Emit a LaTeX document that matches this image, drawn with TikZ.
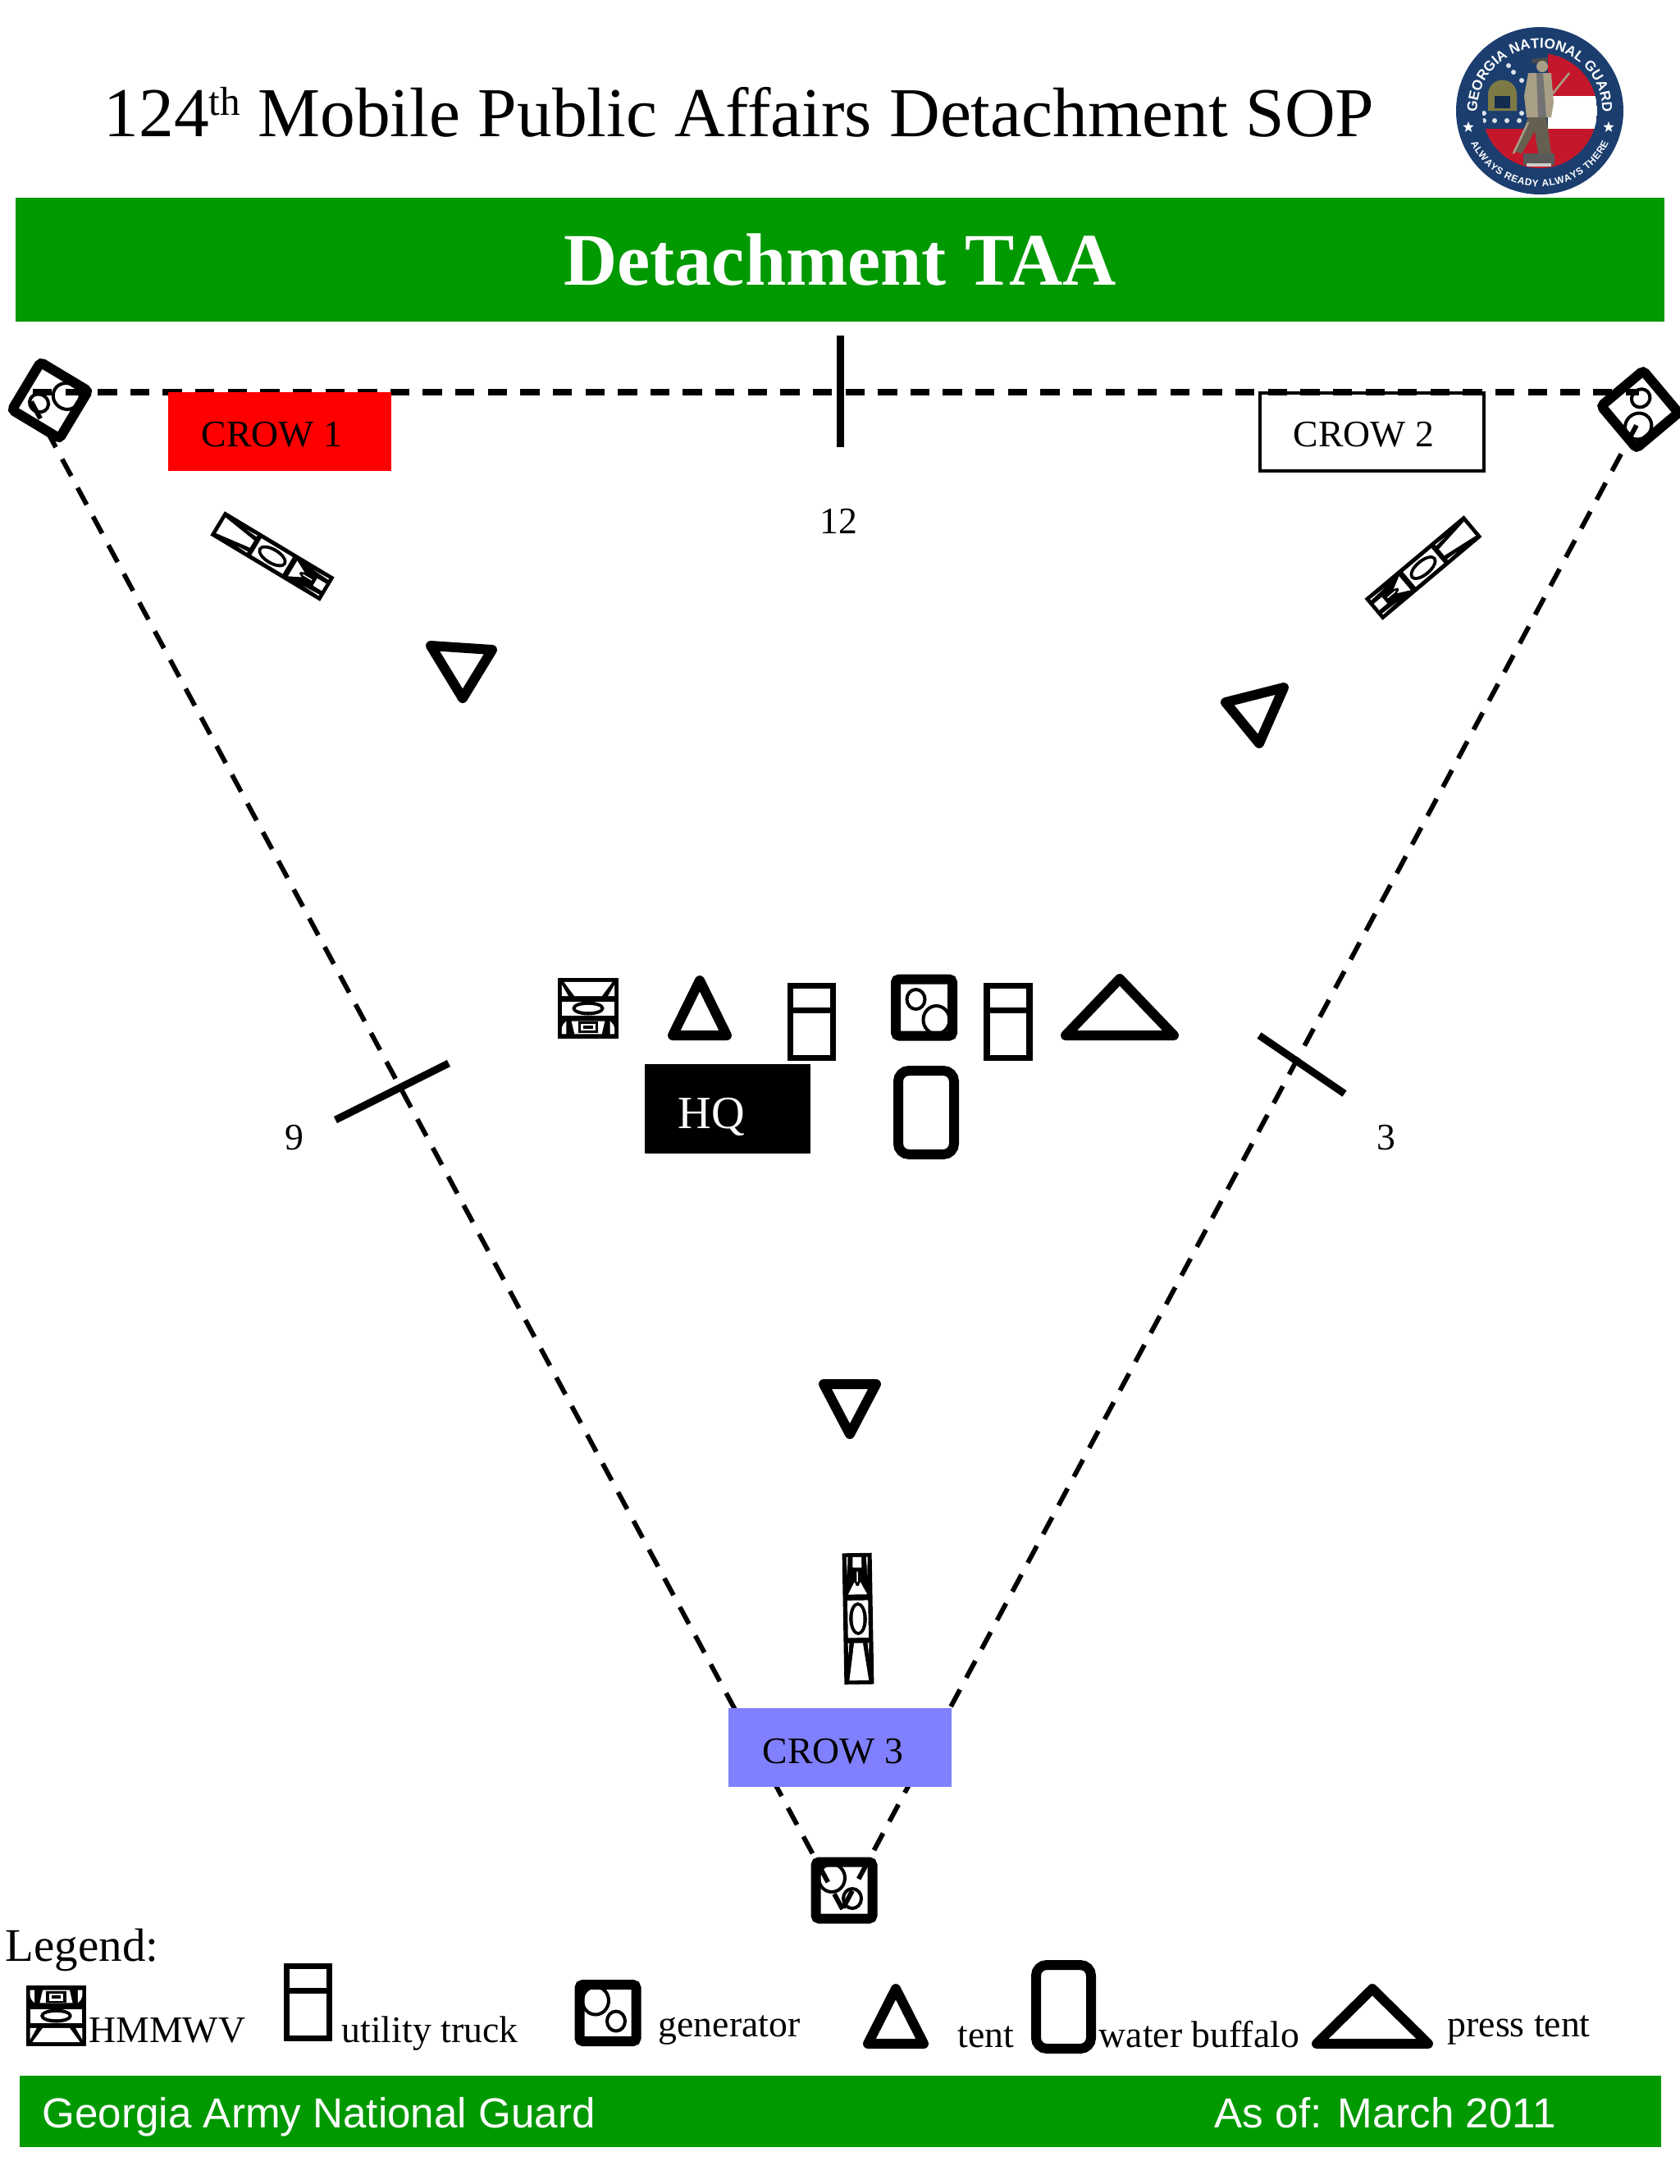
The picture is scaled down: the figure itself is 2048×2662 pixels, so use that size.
\documentclass[tikz,border=0pt]{standalone}
\usepackage{fontspec}
\setmainfont{Liberation Serif}
\newfontfamily\footfont{Liberation Sans}
\usetikzlibrary{decorations.text,shapes.geometric}
\definecolor{guardgreen}{HTML}{009900}
\definecolor{crowblue}{HTML}{8080FF}
\definecolor{logoblue}{HTML}{1B3E6F}
\definecolor{logored}{HTML}{C4172C}
\definecolor{logotan}{HTML}{A89F86}
\definecolor{logoolive}{HTML}{7E7A45}
\newcommand{\logotopfont}{\footfont\bfseries\fontsize{4.9}{6}\selectfont}
\newcommand{\logolowfont}{\footfont\bfseries\fontsize{3.4}{4}\selectfont}
\tikzset{
  perimeter/.style={line width=0.058cm, dash pattern=on 0.234cm off 0.163cm},
  topline/.style={line width=0.072cm, dash pattern=on 0.233cm off 0.163cm},
  tickline/.style={line width=0.09cm},
  tentline/.style={line width=0.12cm, line join=round},
  buffalo/.style={line width=0.12cm, rounded corners=0.13cm},
  textlabel/.style={inner sep=0pt, anchor=base west, font=\fontsize{13}{15}\selectfont},
  clocklabel/.style={inner sep=0pt, font=\fontsize{13}{15}\selectfont},
  footlabel/.style={inner sep=0pt, anchor=base west, text=white, font=\footfont\fontsize{14.55}{17}\selectfont},
  pics/hmmwv/.style={code={
    \fill[black] (-1,-1) rectangle (1,1);
    \fill[white] (-.8,-.87) -- (.8,-.87) -- (.45,-.40) -- (-.45,-.40) -- cycle;
    \fill[white] (-.87,-.78) -- (-.87,-.40) -- (-.65,-.40) -- cycle;
    \fill[white] (.87,-.78) -- (.87,-.40) -- (.65,-.40) -- cycle;
    \fill[white] (-.87,-.23) rectangle (.87,.23);
    \fill[black] (0,0) circle[x radius=.53, y radius=.23];
    \fill[white] (0,0) circle[x radius=.41, y radius=.11];
    \fill[white] (-.87,.85) -- (-.87,.66) .. controls (-.85,.55) and (-.8,.48) .. (-.72,.42) -- (-.72,.85) -- cycle;
    \fill[white] (.87,.85) -- (.87,.66) .. controls (.85,.55) and (.8,.48) .. (.72,.42) -- (.72,.85) -- cycle;
    \fill[white] (-.55,.42) -- (.55,.42) -- (.45,.85) -- (-.45,.85) -- cycle;
    \fill[black] (-.33,.42) rectangle (.33,.82);
    \fill[white] (-.24,.50) rectangle (.24,.74);
    \fill[black] (-.16,.57) rectangle (.16,.68);
  }},
  pics/hmmwvlong/.style={code={
    \fill[black] (-1,-1) rectangle (1,1);
    \fill[white] (-.3,-.94) rectangle (.3,-.78);
    \fill[white] (-.04,-.72) rectangle (.04,-.56);
    \fill[white] (-.2,-.56) -- (-.08,-.5) -- (.08,-.5) -- (.2,-.56) -- (.65,-.37) -- (-.65,-.37) -- cycle;
    \fill[white] (-.72,-.94) -- (-.62,-.94) -- (-.68,-.66) -- cycle;
    \fill[white] (.72,-.94) -- (.62,-.94) -- (.68,-.66) -- cycle;
    \fill[white] (-.7,-.28) rectangle (.7,.29);
    \fill[black] (0,0) circle[x radius=.6, y radius=.25];
    \fill[white] (0,0) circle[x radius=.36, y radius=.2];
    \fill[white] (-.3,.37) -- (.3,.37) -- (.66,.94) -- (-.66,.94) -- cycle;
    \fill[white] (-.72,.37) -- (-.62,.37) -- (-.68,.55) -- cycle;
    \fill[white] (.72,.37) -- (.62,.37) -- (.68,.55) -- cycle;
  }},
  pics/generator/.style={code={
    \draw[line width=0.12cm, rounded corners=0.04cm] (-34.5,-34.5) rectangle (34.5,34.5);
    \begin{scope}
      \clip (-29,-29) rectangle (29,29);
      \draw[line width=0.04cm] (15,15) circle[x radius=16, y radius=17];
    \end{scope}
    \draw[line width=0.04cm] (-10,-10) circle[x radius=11, y radius=12];
  }},
  pics/utilitytruck/.style={code={
    \draw[line width=0.075cm] (-26,-44) rectangle (26,44);
    \draw[line width=0.075cm] (-26,-14) -- (26,-14);
  }}
}
\begin{document}
\begin{tikzpicture}[x=0.01cm, y=-0.01cm]
  \useasboundingbox (0,0) rectangle (2048,2662);
  % Title and banner
  \node[inner sep=0pt, anchor=base west, font=\fontsize{24.3}{28}\selectfont] (title) at (126,166)
    {124\raisebox{0.25cm}{\fontsize{14}{16}\selectfont th} Mobile Public Affairs Detachment SOP};
  \fill[guardgreen] (19,241) rectangle (2029,392);
  \node[inner sep=0pt, anchor=base, text=white, font=\bfseries\fontsize{25.7}{30}\selectfont] (banner) at (1024,347) {Detachment TAA};
  % Logo
  \begin{scope}[shift={(1877,135)}]
    \fill[logoblue] (0,0) circle[radius=102];
    \begin{scope}
      \clip (0,0) circle[radius=70];
      \fill[logoblue] (-70,-70) rectangle (70,22);
      \fill[logored] (10,-70) rectangle (70,-18);
      \fill[white] (10,-18) rectangle (70,22);
      \fill[logored] (-70,22) rectangle (70,70);
      \fill[logoolive] (-63,0) -- (-63,-20) arc[start angle=180, end angle=360, radius=17.5] -- (-28,0) -- cycle;
      \fill[logoblue!70!black] (-55,-3) rectangle (-36,-18);
      \foreach \sx/\sy in {-68/12,-55/12,-40/12,-25/12,-38/-55,-32/-47,-22/-37,-68/3,-22/3}
        \fill[white!85!logoblue] (\sx,\sy) circle[radius=3];
    \end{scope}
    % minuteman
    \fill[black!70] (-9,-63) -- (9,-65) -- (10,-59) -- (-10,-58) -- cycle;
    \fill[logotan] (3,-54) circle[radius=7];
    \fill[logotan] (-14,-46) -- (14,-46) -- (17,-10) -- (14,8) -- (-16,8) -- (-19,-18) -- cycle;
    \fill[black!55] (-4,-46) -- (4,-46) -- (8,8) -- (-2,8) -- cycle;
    \fill[logotan!60!black] (-14,8) -- (8,8) -- (14,52) -- (-2,52) -- (-6,25) -- (-22,52) -- (-30,50) -- cycle;
    \fill[black!65] (-20,52) rectangle (18,66);
    \fill[white!80!black] (-16,64) rectangle (14,68);
    \draw[logotan, line width=0.025cm] (12,-16) -- (36,-46);
    \draw[logotan, line width=0.025cm] (-32,52) -- (-14,14);
    \path[postaction={decorate}, decoration={text along path, text color=white, text align=center,
      text={|\logotopfont|GEORGIA NATIONAL GUARD}}] (-75.2,13.3) arc[start angle=170, end angle=370, radius=76.3];
    \path[postaction={decorate}, decoration={text along path, text color=white, text align=fit to path,
      text={|\logolowfont|ALWAYS READY  ALWAYS THERE}}] (-84,39) arc[start angle=155, end angle=25, radius=92.7];
    \node[star, star points=5, star point ratio=2.4, fill=white, inner sep=0pt, minimum size=0.14cm] (starleft) at (-87,20) {};
    \node[star, star points=5, star point ratio=2.4, fill=white, inner sep=0pt, minimum size=0.14cm] (starright) at (84,20) {};
  \end{scope}
  % Perimeter
  \coordinate (topleft) at (40,478);
  \coordinate (topright) at (1998,478);
  \coordinate (sideleft) at (38.1,489.6);
  \coordinate (sideright) at (1994.9,518.4);
  \coordinate (apex) at (1027,2327);
  \draw[topline] (topleft) -- (topright);
  \draw[perimeter] (sideleft) -- (apex);
  \draw[perimeter] (sideright) -- (apex);
  % CROW positions
  \fill[red] (205,478) rectangle (477,574);
  \node[textlabel] (crowone) at (245,544) {CROW 1};
  \draw[line width=0.04cm] (1536,479) rectangle (1809,574);
  \node[textlabel] (crowtwo) at (1576,544) {CROW 2};
  \fill[crowblue] (888,2082) rectangle (1160,2178);
  \node[textlabel] (crowthree) at (929,2149) {CROW 3};
  % Clock marks
  \coordinate (twelvea) at (1024,409);
  \coordinate (twelveb) at (1024,545);
  \coordinate (ninea) at (409,1365);
  \coordinate (nineb) at (547,1296);
  \coordinate (threea) at (1535,1262);
  \coordinate (threeb) at (1639,1333);
  \draw[tickline] (twelvea) -- (twelveb);
  \draw[tickline] (ninea) -- (nineb);
  \draw[tickline] (threea) -- (threeb);
  \node[clocklabel] (clocktwelve) at (1022,635) {12};
  \node[clocklabel] (clocknine) at (359,1387) {9};
  \node[clocklabel] (clockthree) at (1690,1387) {3};
  % Corner generators
  \pic[rotate=59, scale=.98] (genleft) at (61,488) {generator};
  \pic[rotate=-50, scale=.97] (genright) at (1999,499) {generator};
  \pic[rotate=180] (genbottom) at (1029,2304) {generator};
  % Guard vehicles and tents
  \pic[rotate=239, xscale=17, yscale=78] (hmmwvleft) at (332,678) {hmmwvlong};
  \pic[rotate=130, xscale=17, yscale=79] (hmmwvright) at (1735,692) {hmmwvlong};
  \pic[rotate=1, xscale=18, yscale=80] (hmmwvbottom) at (1046,1973) {hmmwvlong};
  \draw[tentline] (525,787) -- (600,792) -- (564,851) -- cycle;
  \draw[tentline] (1494,856) -- (1565,838) -- (1535,906) -- cycle;
  \draw[tentline] (1004,1687) -- (1068,1687) -- (1036,1748) -- cycle;
  % Headquarters area
  \pic[xscale=37, yscale=37] (hmmwvhq) at (717,1229) {hmmwv};
  \draw[tentline] (820,1262) -- (886,1262) -- (853,1195) -- cycle;
  \pic (truckone) at (989.5,1245.5) {utilitytruck};
  \pic (genhq) at (1126.5,1228) {generator};
  \pic (trucktwo) at (1229,1245.5) {utilitytruck};
  \draw[tentline] (1299,1262) -- (1431,1262) -- (1365,1193) -- cycle;
  \fill[black] (786,1297) rectangle (988,1406);
  \node[inner sep=0pt, anchor=base west, text=white, font=\fontsize{16}{19}\selectfont] (hq) at (826,1375) {HQ};
  \draw[buffalo] (1095,1305) rectangle (1163,1407);
  % Legend
  \node[inner sep=0pt, anchor=base west, font=\fontsize{16.2}{19}\selectfont] (legend) at (6,2390) {Legend:};
  \pic[rotate=180, xscale=36.5, yscale=37] (keyhmmwv) at (68.5,2457) {hmmwv};
  \node[textlabel] (keyhmmwvtext) at (108,2489) {HMMWV};
  \pic (keytruck) at (375.5,2440.5) {utilitytruck};
  \node[textlabel] (keytrucktext) at (416,2489) {utility truck};
  \pic[rotate=180] (keygen) at (741,2453.5) {generator};
  \node[textlabel] (keygentext) at (802,2482) {generator};
  \draw[tentline] (1058,2491) -- (1126,2491) -- (1092,2424) -- cycle;
  \node[textlabel] (keytenttext) at (1167,2495) {tent};
  \draw[buffalo] (1263,2395) rectangle (1330,2497);
  \node[textlabel] (keybuffalotext) at (1339,2495) {water buffalo};
  \draw[tentline] (1605,2491) -- (1741,2491) -- (1673,2424) -- cycle;
  \node[textlabel] (keypresstext) at (1764,2482) {press tent};
  % Footer
  \fill[guardgreen] (24,2530) rectangle (2025,2617);
  \node[footlabel] (footleft) at (51,2593) {Georgia Army National Guard};
  \node[footlabel] (footright) at (1480,2593) {As of: March 2011};
\end{tikzpicture}
\end{document}
